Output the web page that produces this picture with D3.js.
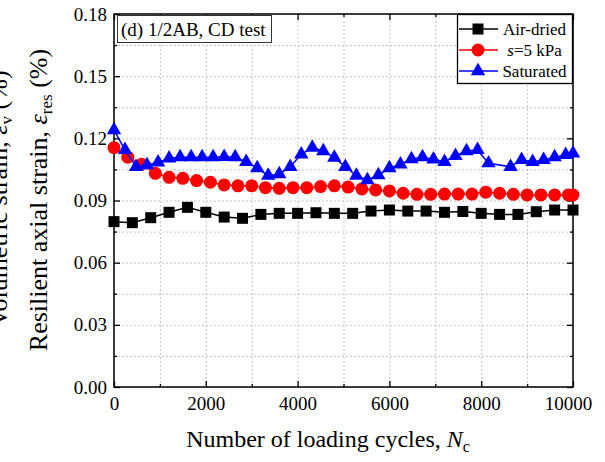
<!DOCTYPE html>
<html>
<head>
<meta charset="utf-8">
<script src="https://d3js.org/d3.v7.min.js"></script>
<style>
  body { margin: 0; background: #fff; }
  svg text { font-family: "Liberation Serif", "Times New Roman", serif; fill: #000; }
</style>
</head>
<body>
<svg id="chart" width="605" height="462"></svg>
<script>
// cycles and resilient axial strain (%) for each series
var cyclesAir = [0,400,800,1200,1600,2000,2400,2800,3200,3600,4000,4400,4800,5200,5600,6000,6400,6800,7200,7600,8000,8400,8800,9200,9600,10000];
var airDried = [0.0798,0.0793,0.0817,0.0843,0.0867,0.0843,0.0820,0.0814,0.0833,0.0838,0.0838,0.0841,0.0838,0.0838,0.0849,0.0854,0.0849,0.0849,0.0843,0.0847,0.0838,0.0833,0.0833,0.0846,0.0854,0.0854];

var cyclesS5 = [0,300,600,900,1200,1500,1800,2100,2400,2700,3000,3300,3600,3900,4200,4500,4800,5100,5400,5700,6000,6300,6600,6900,7200,7500,7800,8100,8400,8700,9000,9300,9600,9900,10000];
var s5kPa = [0.1155,0.1109,0.1075,0.1031,0.1012,0.1007,0.0996,0.0988,0.0975,0.0971,0.0971,0.0962,0.0959,0.0962,0.0962,0.0967,0.0971,0.0965,0.0956,0.0951,0.0946,0.0935,0.0930,0.0930,0.0931,0.0931,0.0931,0.0940,0.0935,0.0930,0.0927,0.0927,0.0927,0.0927,0.0927];

var cyclesSat = [0,240,480,720,960,1200,1440,1680,1920,2160,2400,2640,2880,3120,3360,3600,3840,4080,4320,4560,4800,5040,5280,5520,5760,6000,6240,6480,6720,6960,7200,7440,7680,7920,8160,8640,8880,9120,9360,9600,9840,10000];
var saturated = [0.1240,0.1144,0.1063,0.1071,0.1084,0.1104,0.1109,0.1109,0.1109,0.1109,0.1111,0.1109,0.1087,0.1056,0.1020,0.1027,0.1063,0.1123,0.1155,0.1139,0.1107,0.1063,0.1020,0.0999,0.1023,0.1056,0.1075,0.1100,0.1109,0.1099,0.1087,0.1116,0.1139,0.1144,0.1080,0.1063,0.1096,0.1087,0.1096,0.1109,0.1120,0.1128];

var xMajor = [0,2000,4000,6000,8000,10000];
var xMinor = [1000,3000,5000,7000,9000];
var yMajor = [0,0.03,0.06,0.09,0.12,0.15,0.18];
var yMinor = [0.015,0.045,0.075,0.105,0.135,0.165];

var margin = {top: 14, right: 32, bottom: 75, left: 114};
var svg = d3.select("#chart");
var W = 605 - margin.left - margin.right;
var H = 462 - margin.top - margin.bottom;
var g = svg.append("g").attr("transform", "translate(" + margin.left + "," + margin.top + ")");

var x = d3.scaleLinear().domain([0, 10000]).range([0, W]);
var y = d3.scaleLinear().domain([0, 0.18]).range([H, 0]);

// grid
var gridX = g.append("g").attr("transform", "translate(0," + H + ")")
    .call(d3.axisBottom(x).tickValues(xMajor.concat(xMinor)).tickSize(-H).tickFormat(""));
var gridY = g.append("g")
    .call(d3.axisLeft(y).tickValues(yMajor.concat(yMinor)).tickSize(-W).tickFormat(""));
[gridX, gridY].forEach(function(s){
    s.select(".domain").remove();
    s.selectAll("line").attr("stroke", "#c4c4c4").attr("stroke-dasharray", "2,2").attr("stroke-width", 1);
});

// axes, ticks inside
function styleAxis(s){
    s.select(".domain").remove();
    s.selectAll("line").attr("stroke", "#000").attr("stroke-width", 1.3);
    s.selectAll("text").attr("font-size", "19px");
}
var xAxis = g.append("g").attr("transform", "translate(0," + H + ")")
    .call(d3.axisBottom(x).tickValues(xMajor).tickSize(-6).tickPadding(10).tickFormat(d3.format("d"))).call(styleAxis);
// last label sits a little left of its tick, as in the original
xAxis.selectAll("text").filter(function(d){ return d === 10000; }).attr("dx", -5);
g.append("g").attr("transform", "translate(0," + H + ")")
    .call(d3.axisBottom(x).tickValues(xMinor).tickSize(-3).tickFormat("")).call(styleAxis);
g.append("g").call(d3.axisTop(x).tickValues(xMajor).tickSize(-6).tickFormat("")).call(styleAxis);
g.append("g").call(d3.axisTop(x).tickValues(xMinor).tickSize(-3).tickFormat("")).call(styleAxis);
g.append("g")
    .call(d3.axisLeft(y).tickValues(yMajor).tickSize(-6).tickPadding(7).tickFormat(d3.format(".2f"))).call(styleAxis);
g.append("g").call(d3.axisLeft(y).tickValues(yMinor).tickSize(-3).tickFormat("")).call(styleAxis);
g.append("g").attr("transform", "translate(" + W + ",0)")
    .call(d3.axisRight(y).tickValues(yMajor).tickSize(-6).tickFormat("")).call(styleAxis);
g.append("g").attr("transform", "translate(" + W + ",0)")
    .call(d3.axisRight(y).tickValues(yMinor).tickSize(-3).tickFormat("")).call(styleAxis);

g.append("rect").attr("width", W).attr("height", H)
    .attr("fill", "none").attr("stroke", "#000").attr("stroke-width", 1.5);

// series
var series = [
    {xs: cyclesAir, ys: airDried, color: "#000000", shape: d3.symbolSquare, size: 121},
    {xs: cyclesS5, ys: s5kPa, color: "#ff0000", shape: d3.symbolCircle, size: 133},
    {xs: cyclesSat, ys: saturated, color: "#0000ff", shape: d3.symbolTriangle, size: 90}
];
var line = d3.line().x(function(d){ return x(d[0]); }).y(function(d){ return y(d[1]); });

series.forEach(function(s){
    var pts = s.xs.map(function(c, i){ return [c, s.ys[i]]; });
    g.append("path").datum(pts).attr("d", line)
        .attr("fill", "none").attr("stroke", s.color).attr("stroke-width", 1.5);
    g.selectAll(null).data(pts).enter().append("path")
        .attr("d", d3.symbol().type(s.shape).size(s.size))
        .attr("transform", function(d){ return "translate(" + x(d[0]) + "," + y(d[1]) + ")"; })
        .attr("fill", s.color);
});

// panel label
svg.append("rect").attr("x", 117.5).attr("y", 15.5).attr("width", 154).attr("height", 27)
    .attr("fill", "#fff").attr("stroke", "#333").attr("stroke-width", 1);
svg.append("text").attr("x", 121).attr("y", 36).attr("font-size", "19px").text("(d) 1/2AB, CD test");

// legend
var lg = svg.append("g");
lg.append("rect").attr("x", 457.5).attr("y", 14.5).attr("width", 115).attr("height", 69)
    .attr("fill", "#fff").attr("stroke", "#000").attr("stroke-width", 1.3);
var legendRows = [
    {label: ["Air-dried"], y: 29},
    {label: ["s", "=5 kPa"], y: 50},
    {label: ["Saturated"], y: 71}
];
legendRows.forEach(function(r, i){
    var s = series[i];
    lg.append("line").attr("x1", 459).attr("x2", 498).attr("y1", r.y).attr("y2", r.y)
        .attr("stroke", s.color).attr("stroke-width", 1.5);
    lg.append("path").attr("d", d3.symbol().type(s.shape).size(s.size))
        .attr("transform", "translate(478," + r.y + ")").attr("fill", s.color);
    var t = lg.append("text").attr("x", 534.5).attr("y", r.y + 6).attr("text-anchor", "middle").attr("font-size", "17px");
    if (r.label.length === 2) {
        t.append("tspan").attr("font-style", "italic").text(r.label[0]);
        t.append("tspan").text(r.label[1]);
    } else {
        t.text(r.label[0]);
    }
});

// x title
var xt = svg.append("text").attr("x", 328).attr("y", 447).attr("text-anchor", "middle").attr("font-size", "24px");
xt.append("tspan").text("Number of loading cycles, ");
xt.append("tspan").attr("font-style", "italic").text("N");
xt.append("tspan").attr("font-size", "16px").attr("dy", 5).text("c");

// y title
var yt = svg.append("text").attr("transform", "translate(47,200) rotate(-90)")
    .attr("text-anchor", "middle").attr("font-size", "26px");
yt.append("tspan").text("Resilient axial strain, ");
yt.append("tspan").attr("font-style", "italic").text("\u03b5");
yt.append("tspan").attr("font-size", "17px").attr("dy", 5).text("res");
yt.append("tspan").attr("dy", -5).text(" (%)");

// clipped label of the neighbouring panel
var vt = svg.append("text").attr("transform", "translate(7,327) rotate(-90)")
    .attr("text-anchor", "start").attr("font-size", "26px");
vt.append("tspan").text("Volumetric strain, ");
vt.append("tspan").attr("font-style", "italic").text("\u03b5");
vt.append("tspan").attr("font-size", "17px").attr("dy", 5).text("v");
vt.append("tspan").attr("dy", -5).text(" (%)");
</script>
</body>
</html>
